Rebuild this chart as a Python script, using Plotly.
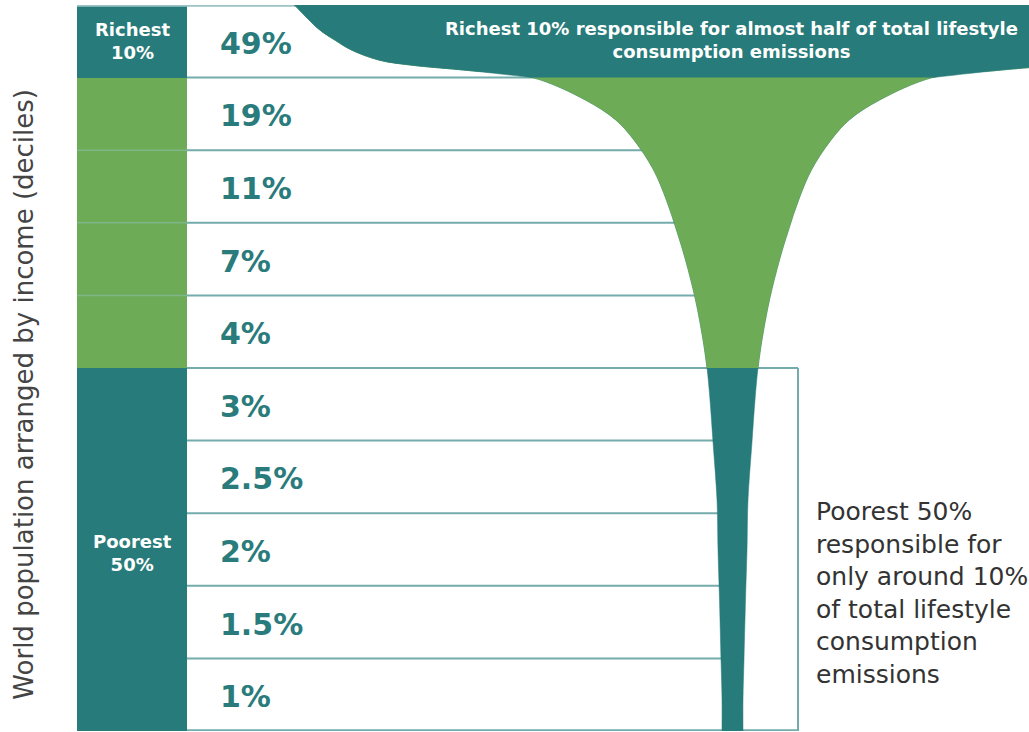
import plotly.graph_objects as go

# ---------------- data ----------------
# income deciles, richest (top) to poorest (bottom)
DECILE_CENTER = [9.5, 8.5, 7.5, 6.5, 5.5, 4.5, 3.5, 2.5, 1.5, 0.5]
EMISSION_SHARE = ["49%", "19%", "11%", "7%", "4%", "3%", "2.5%", "2%", "1.5%", "1%"]

# left label column groups
GROUP_CENTER = [9.5, 8.5, 7.5, 6.5, 5.5, 2.5]
GROUP_SPAN = [1, 1, 1, 1, 1, 5]
GROUP_COLOR = ["#277b7a", "#6dab57", "#6dab57", "#6dab57", "#6dab57", "#277b7a"]
GROUP_LABEL = ["Richest<br>10%", "", "", "", "", "Poorest<br>50%"]

# champagne-glass profile: level (deciles from bottom) and half-width (chart units)
GLASS_LEVEL = [-0.2, 0.0, 0.43, 0.98, 1.8, 2.49, 3.18, 3.98, 4.56, 5.0, 5.39, 5.94,
               6.49, 6.9, 7.31, 7.73, 8.14, 8.42, 8.69, 9.0, 9.1, 9.17, 9.24, 9.38,
               9.52, 9.66, 10.0, 10.2]
GLASS_HALF_WIDTH = [10.5, 10.5, 10.5, 11.5, 13, 14.5, 15.5, 19.5, 22.5, 25.5, 29.5, 37,
                    47, 56, 66, 79, 98.5, 117, 147, 200, 266, 320, 353, 381,
                    398, 413, 438, 452]

TITLE_TOP = "Richest 10% responsible for almost half of total lifestyle<br>consumption emissions"
NOTE_POOR = ("Poorest 50%<br>responsible for<br>only around 10%<br>of total lifestyle"
             "<br>consumption<br>emissions")
Y_TITLE = "World population arranged by income (deciles)"

# ---------------- layout constants ----------------
TEAL = "#277b7a"
GREEN = "#6dab57"
LINE = "#74abab"
TEXT_TEAL = "#2a7b7b"
FONT = "DejaVu Sans, Liberation Sans, Arial, sans-serif"
X_MAX = 952
COL_W = 110
GLASS_C = 655.5
BOX_R = 721
LABEL_X = 143

fig = go.Figure()

# label column
fig.add_trace(go.Bar(
    orientation="h", y=GROUP_CENTER, x=[COL_W] * len(GROUP_CENTER), width=GROUP_SPAN,
    base=0, marker=dict(color=GROUP_COLOR, line=dict(width=0)),
    hoverinfo="skip", showlegend=False))

# row lines
def hline(y, x0, x1, color=LINE, w=2):
    fig.add_trace(go.Scatter(x=[x0, x1], y=[y, y], mode="lines",
                             line=dict(color=color, width=w),
                             hoverinfo="skip", showlegend=False))

for lvl in [1, 2, 3, 4, 6, 7, 8, 9]:
    hline(lvl, COL_W, GLASS_C)
for lvl in [6, 7, 8]:
    hline(lvl, 0, COL_W, color="rgba(140,190,170,0.6)", w=1.5)
hline(5, COL_W, BOX_R)
hline(0.01, COL_W, BOX_R)
hline(9.99, 0, X_MAX, color="#9cc4c4", w=2)
fig.add_trace(go.Scatter(x=[BOX_R, BOX_R], y=[0, 5], mode="lines",
                         line=dict(color=LINE, width=2), hoverinfo="skip", showlegend=False))


def glass_path(lo):
    pts = [(l, h) for l, h in zip(GLASS_LEVEL, GLASS_HALF_WIDTH) if l >= lo]
    xs = [GLASS_C - h for l, h in pts] + [GLASS_C + h for l, h in reversed(pts)]
    ys = [l for l, h in pts] + [l for l, h in reversed(pts)]
    return xs, ys


for lo, col in [(-1, TEAL), (5.0, GREEN), (9.0, TEAL)]:
    gx, gy = glass_path(lo)
    fig.add_trace(go.Scatter(x=gx, y=gy, mode="lines", fill="toself", fillcolor=col,
                             line=dict(color=col, width=0.5, shape="spline", smoothing=1),
                             hoverinfo="skip", showlegend=False))

# percentage labels
fig.add_trace(go.Scatter(
    x=[LABEL_X] * len(DECILE_CENTER), y=[c - 0.07 for c in DECILE_CENTER], mode="text",
    text=EMISSION_SHARE, textposition="middle right",
    textfont=dict(family=FONT, size=30, color=TEXT_TEAL, weight="bold"),
    hoverinfo="skip", showlegend=False))

for c, lab in zip(GROUP_CENTER, GROUP_LABEL):
    if lab:
        fig.add_annotation(x=COL_W / 2, y=c if c > 9 else c - 0.05, text=lab, showarrow=False,
                           font=dict(family=FONT, size=18, color="white", weight="bold"))

fig.add_annotation(x=654, y=9.52, text=TITLE_TOP, showarrow=False,
                   font=dict(family=FONT, size=18, color="white", weight="bold"))
fig.add_annotation(x=737, y=1.9, text=NOTE_POOR, showarrow=False, xanchor="left", align="left",
                   font=dict(family=FONT, size=25, color="#333333"))
fig.add_annotation(xref="paper", yref="paper", x=-0.073, y=0.464, text=Y_TITLE,
                   showarrow=False, textangle=-90,
                   font=dict(family=FONT, size=26, color="#444444"))

fig.update_xaxes(range=[0, X_MAX], visible=False, fixedrange=True)
fig.update_yaxes(range=[0, 10], visible=False, fixedrange=True)
fig.update_layout(width=1029, height=732, margin=dict(l=77, r=0, t=5, b=1, pad=0),
                  plot_bgcolor="white", paper_bgcolor="white", bargap=0,
                  showlegend=False)

fig.write_html("out.html", config={"displayModeBar": False},
               post_script="document.body.style.margin='0';document.body.style.overflow='hidden';")
